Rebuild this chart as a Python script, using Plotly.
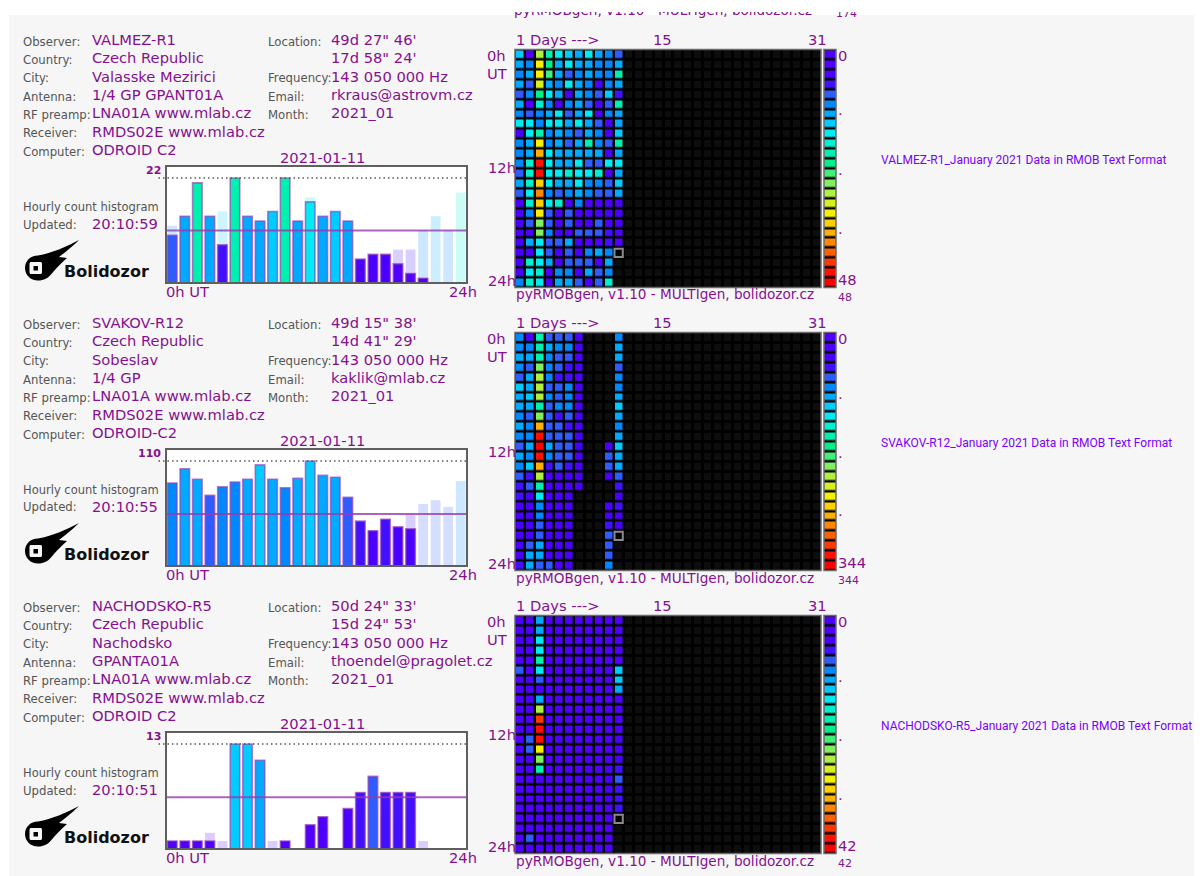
import plotly.graph_objects as go

W, H = 1202, 876          # browser window
OX, OY = 8, 8             # page (body) margin in the browser
FW, FH = W - OX, H - OY
STEP = 283                # vertical distance between the station blocks (px)
FONT = "DejaVu Sans"
PURPLE = "#85108f"
GRAY = "#555555"

# ---------------- data ----------------
COLORS = ["#5000ff", "#5000ff", "#4a00ff", "#4010ff", "#2f5cff", "#0088ff",
          "#00aaff", "#00ccff", "#00ecf5", "#00f0d0", "#00f0b0", "#00f08c",
          "#40f078", "#80f060", "#b0f040", "#d8f020", "#f4f000", "#ffd000",
          "#ffb000", "#ff8800", "#ff6000", "#ff3800", "#ff1000", "#ff0000"]

LABELS_LEFT = ["Observer:", "Country:", "City:", "Antenna:", "RF preamp:", "Receiver:", "Computer:"]
LABELS_RIGHT = ["Location:", "", "Frequency:", "Email:", "Month:"]

DATE_LABEL = "2021-01-11"
CURRENT_DAY = 11
CURRENT_HOUR = 20
HOURS = list(range(24))
DAYS = list(range(1, 32))
FOOTER = "pyRMOBgen, v1.10 - MULTIgen, bolidozor.cz"
PREV_BLOCK_MAX = 174   # colour-bar maximum of the block scrolled off the top

# --- VALMEZ-R1 ---
valmez_left = ["VALMEZ-R1", "Czech Republic", "Valasske Mezirici", "1/4 GP GPANT01A",
               "LNA01A www.mlab.cz", "RMDS02E www.mlab.cz", "ODROID C2"]
valmez_right = ["49d 27\" 46'", "17d 58\" 24'", "143 050 000 Hz", "rkraus@astrovm.cz", "2021_01"]
valmez_updated = "20:10:59"
valmez_link = "VALMEZ-R1_January 2021 Data in RMOB Text Format"
valmez_today = [10, 14, 21, 14, 8, 22, 14, 13, 15, 22, 13, 17, 14, 15, 13, 5, 6, 6, 4, 2, 1, None, None, None]
valmez_avg = 11
valmez_max = 48
valmez_month = [  # rows = hour 0..23, columns = day 1..10
    [15, 4, 31, 21, 17, 15, 13, 17, 13, 12],
    [13, 11, 34, 23, 13, 17, 13, 13, 11, 11],
    [11, 13, 34, 27, 13, 9, 11, 13, 11, 11],
    [13, 9, 33, 13, 11, 17, 13, 11, 5, 11],
    [9, 11, 25, 17, 13, 5, 13, 11, 9, 15],
    [14, 5, 19, 11, 5, 11, 13, 9, 5, 9],
    [11, 9, 11, 13, 17, 9, 13, 17, 6, 11],
    [17, 17, 11, 17, 17, 13, 17, 13, 9, 6],
    [6, 17, 21, 11, 13, 11, 9, 13, 11, 6],
    [11, 13, 34, 11, 13, 9, 13, 21, 11, 9],
    [11, 13, 38, 17, 13, 13, 14, 13, 13, 6],
    [11, 20, 46, 17, 13, 13, 17, 9, 9, 18],
    [9, 20, 48, 17, 17, 20, 17, 17, 20, 6],
    [13, 20, 37, 17, 13, 13, 17, 11, 11, 9],
    [9, 17, 41, 11, 9, 11, 13, 11, 9, 9],
    [6, 20, 37, 17, 20, 6, 11, 6, 6, 5],
    [6, 11, 34, 9, 6, 9, 6, 6, 6, 5],
    [6, 9, 28, 9, 6, 9, 6, 6, 9, 6],
    [6, 5, 28, 11, 6, 6, 9, 9, 9, 7],
    [5, 13, 17, 9, 9, 13, 6, 6, 6, 7],
    [5, 6, 17, 9, 6, 9, 6, 11, 13, 11],
    [6, 20, 17, 13, 6, 9, 9, 9, 6, 14],
    [6, 17, 20, 6, 11, 11, 6, 13, 9, 11],
    [11, 20, 17, 6, 13, 13, 9, 6, 9, 19],
]

# --- SVAKOV-R12 ---
svakov_left = ["SVAKOV-R12", "Czech Republic", "Sobeslav", "1/4 GP",
               "LNA01A www.mlab.cz", "RMDS02E www.mlab.cz", "ODROID-C2"]
svakov_right = ["49d 15\" 38'", "14d 41\" 29'", "143 050 000 Hz", "kaklik@mlab.cz", "2021_01"]
svakov_updated = "20:10:55"
svakov_link = "SVAKOV-R12_January 2021 Data in RMOB Text Format"
svakov_today = [87, 102, 91, 74, 83, 88, 91, 106, 91, 82, 92, 110, 95, 93, 72, 47, 37, 49, 41, 39, 0, None, None, None]
svakov_avg = 54.5
svakov_max = 344
N = None
svakov_month = [
    [80, 40, 150, 70, 62, 62, 40, N, N, N],
    [82, 80, 160, 95, 80, 80, 40, N, N, N],
    [95, 95, 155, 80, 65, 65, 35, N, N, N],
    [80, 65, 200, 80, 65, 45, 40, N, N, N],
    [65, 95, 215, 80, 45, 45, 40, N, N, N],
    [110, 95, 215, 65, 65, 80, 40, N, N, N],
    [95, 110, 220, 80, 65, 80, 40, N, N, N],
    [95, 95, 150, 65, 80, 80, 40, N, N, N],
    [80, 65, 200, 65, 45, 65, 40, N, N, N],
    [95, 80, 275, 65, 65, 45, 40, N, N, N],
    [80, 80, 335, 65, 65, 65, 40, N, N, N],
    [65, 95, 344, 95, 65, 65, 40, N, N, 40],
    [95, 80, 335, 80, 65, 65, 40, N, N, 70],
    [80, 110, 275, 45, 65, 45, 40, N, N, 65],
    [65, 45, 220, 40, 40, 40, 40, N, N, 40],
    [45, 65, 150, 40, 40, 40, 35, N, N, N],
    [45, 40, 125, 40, 40, 40, N, N, N, N],
    [40, 40, 80, 40, 40, 40, N, N, N, 40],
    [40, 40, 80, 40, 40, 40, N, N, N, 38],
    [40, 40, 65, 40, 40, 40, N, N, N, 54],
    [40, 40, 65, 40, 40, 40, N, N, N, 65],
    [40, 65, 95, 40, 40, 40, N, N, N, 69],
    [40, 95, 95, 40, 40, 40, N, N, N, 62],
    [45, 95, 65, 65, 40, 40, N, N, N, 89],
]

# --- NACHODSKO-R5 ---
nachodsko_left = ["NACHODSKO-R5", "Czech Republic", "Nachodsko", "GPANTA01A",
                  "LNA01A www.mlab.cz", "RMDS02E www.mlab.cz", "ODROID C2"]
nachodsko_right = ["50d 24\" 33'", "15d 24\" 53'", "143 050 000 Hz", "thoendel@pragolet.cz", "2021_01"]
nachodsko_updated = "20:10:51"
nachodsko_link = "NACHODSKO-R5_January 2021 Data in RMOB Text Format"
nachodsko_today = [1, 1, 1, 1, 0, 13, 13, 11, 0, 1, 0, 3, 4, 0, 5, 7, 9, 7, 7, 7, 0, None, None, None]
nachodsko_avg = 6.4
nachodsko_max = 42
nachodsko_month = [
    [2, 1, 12, 2, 1, 2, 1, 2, 1, 1],
    [1, 2, 12, 1, 2, 1, 2, 1, 2, 1],
    [2, 1, 15, 2, 1, 2, 1, 1, 2, 1],
    [1, 2, 15, 1, 3, 1, 2, 1, 1, 2],
    [2, 1, 19, 2, 1, 1, 2, 1, 2, 1],
    [8, 1, 15, 1, 2, 1, 1, 2, 1, 0],
    [1, 2, 8, 1, 1, 2, 1, 1, 2, 0],
    [2, 1, 5, 2, 1, 1, 2, 1, 1, 0],
    [1, 2, 12, 1, 2, 1, 1, 2, 1, 1],
    [2, 1, 27, 1, 1, 2, 1, 1, 2, 1],
    [1, 2, 40, 2, 1, 1, 2, 1, 1, 0],
    [2, 1, 42, 1, 2, 1, 1, 2, 1, 2],
    [1, 8, 41, 2, 1, 2, 1, 1, 2, 3],
    [2, 8, 30, 1, 1, 1, 2, 1, 1, 0],
    [1, 2, 25, 2, 1, 2, 1, 2, 1, 3],
    [2, 1, 19, 1, 2, 1, 1, 1, 2, 4],
    [1, 2, 3, 1, 1, 2, 1, 2, 1, 5],
    [2, 1, 2, 2, 1, 1, 2, 1, 1, 4],
    [1, 2, 3, 1, 2, 1, 1, 2, 2, 4],
    [2, 1, 2, 1, 1, 2, 1, 1, 1, 3],
    [1, 2, 3, 2, 1, 1, 2, 1, 2, 1],
    [2, 1, 2, 1, 2, 1, 1, 2, 1, 0],
    [1, 8, 3, 1, 1, 2, 1, 1, 2, 0],
    [2, 1, 2, 2, 1, 1, 2, 1, 1, 0],
]

STATIONS = [
    (valmez_left, valmez_right, valmez_updated, valmez_link, valmez_today, valmez_avg, valmez_max, valmez_month),
    (svakov_left, svakov_right, svakov_updated, svakov_link, svakov_today, svakov_avg, svakov_max, svakov_month),
    (nachodsko_left, nachodsko_right, nachodsko_updated, nachodsko_link, nachodsko_today, nachodsko_avg,
     nachodsko_max, nachodsko_month),
]


# ---------------- helpers (window pixels -> paper fractions) ----------------
def X(px):
    return (px - OX) / FW


def Y(py):
    return 1 - (py - OY) / FH


NC = len(COLORS)
SCALE = []
for i, c in enumerate(COLORS):
    SCALE.append([i / NC, c])
    SCALE.append([(i + 1) / NC, c])


def color_for(v, vmax):
    if v is None:
        return COLORS[0]
    i = int(v / vmax * (NC - 1))
    return COLORS[max(0, min(NC - 1, i))]


def pale(hexc, a=0.2):
    r, g, b = int(hexc[1:3], 16), int(hexc[3:5], 16), int(hexc[5:7], 16)
    return "rgb(%d,%d,%d)" % (round(255 + (r - 255) * a), round(255 + (g - 255) * a), round(255 + (b - 255) * a))


annotations = []
shapes = []
layout_axes = {}


def ann(text, x, y, size, color, anchor="left", family=FONT, bold=False):
    if bold:
        text = "<b>" + text + "</b>"
    pad = {"left": -2, "right": 2, "center": 0}[anchor]
    annotations.append(dict(text=text, x=X(x + pad), y=Y(y), xref="paper", yref="paper",
                            xanchor=anchor, yanchor="middle", showarrow=False,
                            font=dict(family=family, size=size, color=color)))


def ppath(cmds, dy):
    out = []
    for cmd, pts in cmds:
        out.append(cmd + " ".join("%.5f,%.5f" % (X(px), Y(py + dy)) for px, py in pts))
    return " ".join(out)


LOGO = [("M", [(25, 268)]), ("C", [(25, 261), (30.5, 255.5), (38, 255.5)]),
        ("C", [(52, 253), (66, 247), (79, 240)]), ("C", [(71, 248), (64, 253), (59, 257)]),
        ("L", [(67, 258)]), ("C", [(60, 264), (55, 270), (51, 274.5)]),
        ("C", [(48, 278), (44, 280.5), (38, 280.5)]), ("C", [(30.5, 280.5), (25, 275), (25, 268)]), ("Z", [])]
LOGO_HOLE = [("M", [(31.5, 262)]), ("L", [(40, 262)]), ("C", [(41.5, 262), (42, 262.5), (42, 264)]),
             ("L", [(42, 272)]), ("C", [(42, 273.5), (41.5, 274), (40, 274)]), ("L", [(31.5, 274)]),
             ("C", [(30, 274), (29.5, 273.5), (29.5, 272)]), ("L", [(29.5, 264)]),
             ("C", [(29.5, 262.5), (30, 262), (31.5, 262)]), ("Z", [])]

fig = go.Figure()

# page background (grey area of the web page)
shapes.append(dict(type="rect", xref="paper", yref="paper", x0=X(9), x1=1, y0=0, y1=Y(15),
                   fillcolor="#f6f6f6", line=dict(width=0), layer="below"))

for k, (left, right, updated, link, today, avg, mmax, month) in enumerate(STATIONS):
    dy = STEP * k
    n = 3 * k + 1
    s_h, s_m, s_c = ("" if n == 1 else str(n)), str(n + 1), str(n + 2)

    # ---- text block ----
    for i, lab in enumerate(LABELS_LEFT):
        ann(lab, 23, 41.5 + 18.35 * i + dy, 11.7, GRAY)
        ann(left[i], 92, 39.5 + 18.35 * i + dy, 14.7, PURPLE)
    for i, lab in enumerate(LABELS_RIGHT):
        if lab:
            ann(lab, 268, 41.5 + 18.35 * i + dy, 11.7, GRAY)
        ann(right[i], 331, 39.5 + 18.35 * i + dy, 14.7, PURPLE)
    ann(DATE_LABEL, 322, 157.5 + dy, 14.7, PURPLE, anchor="center")
    ann("Hourly count histogram", 23, 206.7 + dy, 11.5, GRAY)
    ann("Updated:", 23, 224.5 + dy, 11.7, GRAY)
    ann(updated, 92, 223.3 + dy, 14.7, PURPLE)
    ann("Bolidozor", 64, 271 + dy, 16, "#111111", bold=True)
    ann(link, 881, 160 + dy, 12, "#7a00ff", family="Roboto")

    # logo (comet)
    shapes.append(dict(type="path", xref="paper", yref="paper", path=ppath(LOGO, dy),
                       fillcolor="#000000", line=dict(width=0)))
    shapes.append(dict(type="path", xref="paper", yref="paper", path=ppath(LOGO_HOLE, dy),
                       fillcolor="#f6f6f6", line=dict(width=0)))
    shapes.append(dict(type="rect", xref="paper", yref="paper", x0=X(33.5), x1=X(38), y0=Y(270.5 + dy),
                       y1=Y(266 + dy), fillcolor="#000000", line=dict(width=0)))

    # ---- hourly histogram ----
    prev = [row[CURRENT_DAY - 2] for row in month]
    hmax = max(v for v in today + prev if v is not None)
    fig.add_trace(go.Bar(x=HOURS, y=prev, width=0.78, xaxis="x" + s_h, yaxis="y" + s_h,
                         marker=dict(color=[pale(color_for(v, mmax)) for v in prev], line=dict(width=0)),
                         hoverinfo="skip"))
    fig.add_trace(go.Bar(x=HOURS, y=today, width=0.76, xaxis="x" + s_h, yaxis="y" + s_h,
                         marker=dict(color=[color_for(v, mmax) for v in today],
                                     line=dict(width=1.6, color="rgba(150,60,180,0.65)")),
                         hoverinfo="skip"))
    layout_axes["xaxis" + s_h] = dict(domain=[X(166), X(467)], range=[-0.5, 23.5], visible=False,
                                      anchor="y" + s_h, fixedrange=True)
    layout_axes["yaxis" + s_h] = dict(domain=[Y(283 + dy), Y(166 + dy)], range=[0, hmax * 1.115],
                                      visible=False, anchor="x" + s_h, fixedrange=True)
    xd, yd = "x" + s_h + " domain", "y" + s_h + " domain"
    shapes.append(dict(type="rect", xref=xd, yref=yd, x0=0, x1=1, y0=0, y1=1,
                       fillcolor="white", line=dict(width=0), layer="below"))
    shapes.append(dict(type="line", xref=xd, yref="y" + s_h, x0=-0.025, x1=1, y0=hmax, y1=hmax,
                       line=dict(color="#555555", width=1.5, dash="1.5px,3px")))
    shapes.append(dict(type="line", xref=xd, yref="y" + s_h, x0=0, x1=1, y0=avg, y1=avg,
                       line=dict(color="rgba(150,60,170,0.8)", width=2)))
    shapes.append(dict(type="rect", xref=xd, yref=yd, x0=0, x1=1, y0=0, y1=1,
                       line=dict(color="#5f5f5f", width=2)))
    ann(str(hmax), 161, 170 + dy, 11, PURPLE, anchor="right", bold=True)
    ann("0h UT", 166, 291.5 + dy, 14.7, PURPLE)
    ann("24h", 477, 291.5 + dy, 14.7, PURPLE, anchor="right")

    # ---- month heatmap ----
    z = []
    for h in HOURS:
        done = today[h] if h < CURRENT_HOUR else None
        z.append(list(month[h]) + [done] + [None] * (len(DAYS) - CURRENT_DAY))
    zmax = mmax * NC / (NC - 1)
    fig.add_trace(go.Heatmap(z=z, x=DAYS, y=HOURS, zmin=0, zmax=zmax, colorscale=SCALE, showscale=False,
                             xgap=2.5, ygap=2.5, xaxis="x" + s_m, yaxis="y" + s_m, hoverinfo="skip"))
    grid = dict(showgrid=True, gridcolor="#000000", gridwidth=2.5, tick0=0.5, dtick=1,
                showticklabels=False, ticks="", zeroline=False, showline=False, fixedrange=True)
    layout_axes["xaxis" + s_m] = dict(domain=[X(515), X(821)], range=[0.5, 31.5], anchor="y" + s_m, **grid)
    layout_axes["yaxis" + s_m] = dict(domain=[Y(287.5 + dy), Y(49.5 + dy)], range=[23.5, -0.5],
                                      anchor="x" + s_m, **grid)
    xd, yd = "x" + s_m + " domain", "y" + s_m + " domain"
    shapes.append(dict(type="rect", xref=xd, yref=yd, x0=0, x1=1, y0=0, y1=1,
                       fillcolor="#0d0d0d", line=dict(width=0), layer="below"))
    shapes.append(dict(type="rect", xref=xd, yref=yd, x0=0, x1=1, y0=0, y1=1,
                       line=dict(color="#6a6a6a", width=1.5)))
    shapes.append(dict(type="rect", xref="x" + s_m, yref="y" + s_m,
                       x0=CURRENT_DAY - 0.42, x1=CURRENT_DAY + 0.42,
                       y0=CURRENT_HOUR - 0.42, y1=CURRENT_HOUR + 0.42,
                       fillcolor="#000000", line=dict(color="#8a8a8a", width=2)))
    ann("1 Days ---&gt;", 516, 39.5 + dy, 14.7, PURPLE)
    ann("15", 662, 39.5 + dy, 14.7, PURPLE, anchor="center")
    ann("31", 817, 39.5 + dy, 14.7, PURPLE, anchor="center")
    ann("0h", 487, 55.5 + dy, 14.7, PURPLE)
    ann("UT", 487, 73.5 + dy, 14.7, PURPLE)
    ann("12h", 516, 168 + dy, 14.7, PURPLE, anchor="right")
    ann("24h", 516, 280 + dy, 14.7, PURPLE, anchor="right")
    ann(FOOTER, 516, 294.5 + dy, 13.6, PURPLE)

    # ---- colour bar ----
    fig.add_trace(go.Heatmap(z=[[i + 0.5] for i in range(NC)], x=[0], y=list(range(NC)), zmin=0, zmax=NC,
                             colorscale=SCALE, showscale=False, ygap=2.5, xaxis="x" + s_c, yaxis="y" + s_c,
                             hoverinfo="skip"))
    layout_axes["xaxis" + s_c] = dict(domain=[X(824), X(836)], range=[-0.5, 0.5], visible=False,
                                      anchor="y" + s_c, fixedrange=True)
    layout_axes["yaxis" + s_c] = dict(domain=[Y(287.5 + dy), Y(49.5 + dy)], range=[NC - 0.5, -0.5],
                                      visible=False, anchor="x" + s_c, fixedrange=True)
    xd, yd = "x" + s_c + " domain", "y" + s_c + " domain"
    shapes.append(dict(type="rect", xref=xd, yref=yd, x0=0, x1=1, y0=0, y1=1,
                       fillcolor="#000000", line=dict(width=0), layer="below"))
    shapes.append(dict(type="rect", xref=xd, yref=yd, x0=0, x1=1, y0=0, y1=1,
                       line=dict(color="#6a6a6a", width=1.5)))
    ann("0", 838, 55 + dy, 14.7, PURPLE)
    for fy in (110, 169, 228):
        ann(".", 838, fy + dy, 14.7, PURPLE)
    ann(str(mmax), 838, 279 + dy, 14.7, PURPLE)
    ann(str(mmax), 838, 297 + dy, 11, PURPLE)

# footer of the block that is scrolled off the top of the page (clipped text)
fig.add_trace(go.Scatter(x=[514, 836], y=[294.5 - STEP, 297 - STEP], mode="text",
                         text=[FOOTER, str(PREV_BLOCK_MAX)], textposition="middle right",
                         textfont=dict(family=FONT, size=[13.6, 11], color=PURPLE),
                         cliponaxis=True, hoverinfo="skip", xaxis="x10", yaxis="y10"))
layout_axes["xaxis10"] = dict(domain=[0, 1], range=[OX, OX + FW], visible=False, anchor="y10", fixedrange=True)
layout_axes["yaxis10"] = dict(domain=[Y(40), Y(12)], range=[40, 12], visible=False, anchor="x10",
                              fixedrange=True)

fig.update_layout(
    width=FW, height=FH, margin=dict(l=0, r=0, t=0, b=0),
    paper_bgcolor="white", plot_bgcolor="rgba(0,0,0,0)",
    showlegend=False, barmode="overlay",
    annotations=annotations, shapes=shapes, **layout_axes,
)
fig.write_html("out.html")
